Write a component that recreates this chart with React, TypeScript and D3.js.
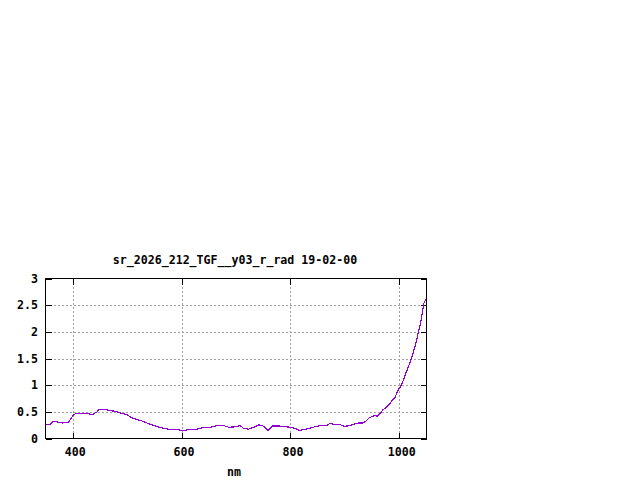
import React, { useEffect, useRef } from "react";
import * as d3 from "d3";

const titleText = "sr_2026_212_TGF__y03_r_rad 19-02-00";
const xLabel = "nm";

const wavelengths = [
  350, 358, 364, 372, 381, 387, 393, 396, 401, 406, 415, 424, 436, 445, 448, 455, 461,
  472, 481, 490, 499, 508, 517, 527, 539, 551, 563, 575, 588, 598, 608, 611, 620, 629,
  638, 650, 665, 678, 687, 699, 708, 714, 723, 733, 742, 749, 759, 767, 778, 793, 805,
  813, 817, 826, 835, 845, 854, 866, 872, 881, 890, 899, 909, 915, 924, 933, 939, 945,
  954, 960, 965, 970, 976, 982, 986, 992, 998, 1004, 1009, 1013, 1019, 1025, 1031,
  1036, 1039, 1042, 1045, 1047, 1049,
];
const radiance = [
  0.26, 0.26, 0.32, 0.31, 0.29, 0.30, 0.31, 0.36, 0.44, 0.47, 0.47, 0.47, 0.45, 0.50,
  0.54, 0.54, 0.54, 0.52, 0.50, 0.47, 0.45, 0.39, 0.36, 0.33, 0.28, 0.24, 0.20, 0.175,
  0.175, 0.155, 0.155, 0.175, 0.175, 0.175, 0.20, 0.20, 0.24, 0.24, 0.21, 0.22, 0.24,
  0.19, 0.175, 0.21, 0.255, 0.24, 0.155, 0.235, 0.235, 0.22, 0.20, 0.17, 0.15, 0.17,
  0.19, 0.22, 0.24, 0.24, 0.28, 0.265, 0.265, 0.23, 0.24, 0.265, 0.29, 0.29, 0.33,
  0.39, 0.43, 0.42, 0.47, 0.54, 0.58, 0.64, 0.70, 0.77, 0.91, 1.0, 1.14, 1.25, 1.41,
  1.59, 1.81, 2.03, 2.16, 2.34, 2.53, 2.57, 2.62,
];

const xTicks = [400, 600, 800, 1000];
const yTicks = [0, 0.5, 1, 1.5, 2, 2.5, 3];

export default function App() {
  const svgRef = useRef<SVGSVGElement | null>(null);

  useEffect(() => {
    const svg = d3.select(svgRef.current);
    svg.selectAll("*").remove();

    const width = 640;
    const height = 480;
    // plot box, gnuplot style
    const left = 45.5;
    const right = 426.5;
    const top = 278.5;
    const bottom = 438.5;
    const font = "'DejaVu Sans Mono', monospace";

    const x = d3.scaleLinear().domain([350, 1050]).range([left, right]);
    const y = d3.scaleLinear().domain([0, 3]).range([bottom, top]);

    svg.attr("width", width).attr("height", height).attr("viewBox", `0 0 ${width} ${height}`);

    svg.append("rect").attr("width", width).attr("height", height).attr("fill", "#fff");

    // grid
    const grid = svg.append("g")
      .attr("stroke", "#a0a0a0")
      .attr("stroke-width", 1)
      .attr("stroke-dasharray", "2,2")
      .attr("shape-rendering", "crispEdges");
    yTicks.slice(1, -1).forEach(t => {
      grid.append("line")
        .attr("x1", left).attr("x2", right)
        .attr("y1", Math.round(y(t)) + 0.5).attr("y2", Math.round(y(t)) + 0.5);
    });
    xTicks.forEach(t => {
      grid.append("line")
        .attr("x1", Math.round(x(t)) + 0.5).attr("x2", Math.round(x(t)) + 0.5)
        .attr("y1", top).attr("y2", bottom);
    });

    // ticks (inward, mirrored)
    const ticks = svg.append("g")
      .attr("stroke", "#000")
      .attr("stroke-width", 1)
      .attr("shape-rendering", "crispEdges");
    yTicks.forEach(t => {
      const yy = Math.round(y(t)) + 0.5;
      ticks.append("line").attr("x1", left).attr("x2", left + 6).attr("y1", yy).attr("y2", yy);
      ticks.append("line").attr("x1", right - 6).attr("x2", right).attr("y1", yy).attr("y2", yy);
    });
    xTicks.forEach(t => {
      const xx = Math.round(x(t)) + 0.5;
      ticks.append("line").attr("x1", xx).attr("x2", xx).attr("y1", bottom).attr("y2", bottom - 6);
      ticks.append("line").attr("x1", xx).attr("x2", xx).attr("y1", top).attr("y2", top + 6);
    });

    // data line
    const data = wavelengths.map((w, i) => ({ w, v: radiance[i] }));
    const line = d3.line<{ w: number; v: number }>()
      .x(d => x(d.w))
      .y(d => y(d.v));
    svg.append("path")
      .datum(data)
      .attr("fill", "none")
      .attr("stroke", "#9400d3")
      .attr("stroke-width", 1.2)
      .attr("shape-rendering", "crispEdges")
      .attr("d", line);

    // border
    svg.append("rect")
      .attr("x", left).attr("y", top)
      .attr("width", right - left).attr("height", bottom - top)
      .attr("fill", "none").attr("stroke", "#000").attr("stroke-width", 1)
      .attr("shape-rendering", "crispEdges");

    // labels
    const txt = svg.append("g")
      .attr("font-family", font)
      .attr("font-size", 11.6)
      .attr("font-weight", "bold")
      .attr("fill", "#000");

    yTicks.forEach(t => {
      txt.append("text")
        .attr("x", 38)
        .attr("y", y(t) + 4)
        .attr("text-anchor", "end")
        .text(d3.format("")(t));
    });
    xTicks.forEach(t => {
      txt.append("text")
        .attr("x", x(t) + 2.5)
        .attr("y", 456)
        .attr("text-anchor", "middle")
        .text(String(t));
    });
    txt.append("text")
      .attr("x", 234)
      .attr("y", 476)
      .attr("text-anchor", "middle")
      .text(xLabel);
    txt.append("text")
      .attr("x", 235)
      .attr("y", 264)
      .attr("text-anchor", "middle")
      .text(titleText);
  }, []);

  return (
    <div style={{ position: "absolute", left: 0, top: 0 }}>
      <svg ref={svgRef} style={{ display: "block" }}></svg>
    </div>
  );
}
